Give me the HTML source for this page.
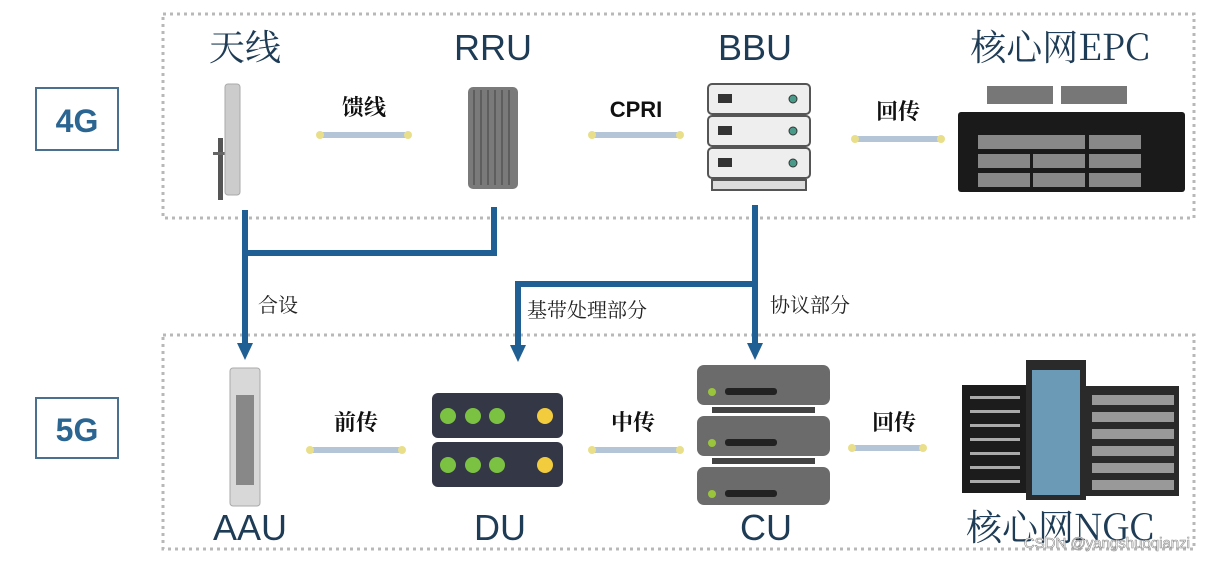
<!DOCTYPE html>
<html><head><meta charset="utf-8"><style>
body{margin:0;background:#fff;}
svg{display:block}
text{font-family:"Liberation Sans","Noto Sans CJK SC",sans-serif}
.cn{font-family:"Noto Serif CJK SC","Noto Sans CJK SC",serif}
</style></head><body>
<svg width="1207" height="562" viewBox="0 0 1207 562" xmlns="http://www.w3.org/2000/svg">
<rect x="0" y="0" width="1207" height="562" fill="#fff"/>
<!-- dotted boxes -->
<rect x="163" y="14" width="1031" height="204" fill="none" stroke="#b8b8b8" stroke-width="3" stroke-dasharray="3 4"/>
<rect x="163" y="335" width="1031" height="214" fill="none" stroke="#b8b8b8" stroke-width="3" stroke-dasharray="3 4"/>
<!-- 4G/5G boxes -->
<rect x="36" y="88" width="82" height="62" fill="#fff" stroke="#4a7090" stroke-width="2"/>
<text x="77" y="132" font-size="32" font-weight="bold" fill="#2b6592" text-anchor="middle">4G</text>
<rect x="36" y="398" width="82" height="60" fill="#fff" stroke="#4a7090" stroke-width="2"/>
<text x="77" y="441" font-size="32" font-weight="bold" fill="#2b6592" text-anchor="middle">5G</text>
<!-- top labels -->
<g fill="#1e3c55" font-size="36">
<text x="245" y="60" text-anchor="middle" class="cn">天线</text>
<text x="493" y="60" text-anchor="middle">RRU</text>
<text x="755" y="60" text-anchor="middle">BBU</text>
<text x="1060" y="60" text-anchor="middle" class="cn">核心网EPC</text>
<text x="250" y="540" text-anchor="middle">AAU</text>
<text x="500" y="540" text-anchor="middle">DU</text>
<text x="766" y="540" text-anchor="middle">CU</text>
<text x="1060" y="540" text-anchor="middle" class="cn">核心网NGC</text>
</g>
<text x="1190" y="548" font-size="15" fill="#fff" stroke="#888" stroke-width="0.6" text-anchor="end">CSDN @yangshuoqianzi</text>
<!-- connectors -->
<g stroke="#b5c5d8" stroke-width="6">
<line x1="320" y1="135" x2="408" y2="135"/>
<line x1="592" y1="135" x2="680" y2="135"/>
<line x1="855" y1="139" x2="941" y2="139"/>
<line x1="310" y1="450" x2="402" y2="450"/>
<line x1="592" y1="450" x2="680" y2="450"/>
<line x1="822" y1="448" x2="893" y2="448" transform="translate(30,0)"/>
</g>
<g fill="#e9df8a">
<circle cx="320" cy="135" r="4"/><circle cx="408" cy="135" r="4"/>
<circle cx="592" cy="135" r="4"/><circle cx="680" cy="135" r="4"/>
<circle cx="855" cy="139" r="4"/><circle cx="941" cy="139" r="4"/>
<circle cx="310" cy="450" r="4"/><circle cx="402" cy="450" r="4"/>
<circle cx="592" cy="450" r="4"/><circle cx="680" cy="450" r="4"/>
<circle cx="852" cy="448" r="4"/><circle cx="923" cy="448" r="4"/>
</g>
<g font-size="22" font-weight="bold" fill="#111" text-anchor="middle" class="cn">
<text x="364" y="115" class="cn">馈线</text>
<text x="636" y="117" font-family="Liberation Sans">CPRI</text>
<text x="898" y="119" class="cn">回传</text>
<text x="356" y="430" class="cn">前传</text>
<text x="633" y="430" class="cn">中传</text>
<text x="894" y="430" class="cn">回传</text>
</g>
<!-- blue lines -->
<g stroke="#1f5f93" stroke-width="6" fill="none">
<polyline points="245,210 245,345"/>
<polyline points="245,253 494,253 494,207"/>
<polyline points="755,205 755,345"/>
<polyline points="755,284 518,284 518,347"/>
</g>
<g fill="#1f5f93">
<polygon points="237,343 253,343 245,360"/>
<polygon points="747,343 763,343 755,360"/>
<polygon points="510,345 526,345 518,362"/>
</g>
<g font-size="20" fill="#222" class="cn">
<text x="258" y="312" class="cn">合设</text>
<text x="527" y="317" class="cn">基带处理部分</text>
<text x="770" y="312" class="cn">协议部分</text>
</g>
<!-- antenna -->
<rect x="218" y="138" width="5" height="62" fill="#555"/>
<rect x="213" y="152" width="14" height="3" fill="#666"/>
<rect x="225" y="84" width="15" height="111" rx="3" fill="#ccc" stroke="#aaa"/>
<!-- RRU -->
<rect x="468" y="87" width="50" height="102" rx="5" fill="#7a7a7a"/>
<g stroke="#555" stroke-width="1.5"><line x1="474" y1="90" x2="474" y2="185"/><line x1="481" y1="90" x2="481" y2="185"/><line x1="488" y1="90" x2="488" y2="185"/><line x1="495" y1="90" x2="495" y2="185"/><line x1="502" y1="90" x2="502" y2="185"/><line x1="509" y1="90" x2="509" y2="185"/></g>
<!-- BBU -->
<g stroke="#555" stroke-width="2" fill="#eee">
<rect x="708" y="84" width="102" height="30" rx="4"/>
<rect x="708" y="116" width="102" height="30" rx="4"/>
<rect x="708" y="148" width="102" height="30" rx="4"/>
<rect x="712" y="180" width="94" height="10" fill="#ddd"/>
</g>
<g fill="#4a9a8a" stroke="#333"><circle cx="793" cy="99" r="4"/><circle cx="793" cy="131" r="4"/><circle cx="793" cy="163" r="4"/></g>
<g fill="#333"><rect x="718" y="94" width="14" height="9"/><rect x="718" y="126" width="14" height="9"/><rect x="718" y="158" width="14" height="9"/></g>
<!-- EPC -->
<rect x="987" y="86" width="66" height="18" fill="#777"/><rect x="1061" y="86" width="66" height="18" fill="#777"/>
<rect x="958" y="112" width="227" height="80" rx="3" fill="#1a1a1a"/>
<g fill="#888">
<rect x="978" y="135" width="57" height="14"/><rect x="1035" y="135" width="0" height="0"/>
<rect x="1033" y="135" width="52" height="14"/><rect x="1089" y="135" width="52" height="14"/>
<rect x="978" y="154" width="52" height="14"/><rect x="1033" y="154" width="52" height="14"/><rect x="1089" y="154" width="52" height="14"/>
<rect x="978" y="173" width="52" height="14"/><rect x="1033" y="173" width="52" height="14"/><rect x="1089" y="173" width="52" height="14"/>
</g>
<!-- AAU -->
<rect x="230" y="368" width="30" height="138" rx="3" fill="#d8d8d8" stroke="#aaa"/>
<rect x="236" y="395" width="18" height="90" fill="#888"/>
<!-- DU -->
<rect x="432" y="393" width="131" height="45" rx="6" fill="#343846"/>
<rect x="432" y="442" width="131" height="45" rx="6" fill="#343846"/>
<g fill="#7cc242"><circle cx="448" cy="416" r="8"/><circle cx="473" cy="416" r="8"/><circle cx="497" cy="416" r="8"/><circle cx="448" cy="465" r="8"/><circle cx="473" cy="465" r="8"/><circle cx="497" cy="465" r="8"/></g>
<g fill="#f2cc3c"><circle cx="545" cy="416" r="8"/><circle cx="545" cy="465" r="8"/></g>
<!-- CU -->
<g fill="#6b6b6b">
<rect x="697" y="365" width="133" height="40" rx="7"/>
<rect x="697" y="416" width="133" height="40" rx="7"/>
<rect x="697" y="467" width="133" height="38" rx="7"/>
<rect x="712" y="407" width="103" height="6" fill="#444"/>
<rect x="712" y="458" width="103" height="6" fill="#444"/>
</g>
<g fill="#9ac43c"><circle cx="712" cy="392" r="4"/><circle cx="712" cy="443" r="4"/><circle cx="712" cy="494" r="4"/></g>
<g fill="#222"><rect x="725" y="388" width="52" height="7" rx="3"/><rect x="725" y="439" width="52" height="7" rx="3"/><rect x="725" y="490" width="52" height="7" rx="3"/></g>
<!-- NGC -->
<rect x="962" y="385" width="68" height="108" fill="#1c1c1c"/>
<rect x="1026" y="360" width="60" height="140" fill="#2a2a2a"/>
<rect x="1032" y="370" width="48" height="125" fill="#6a9ab5"/>
<rect x="1086" y="386" width="93" height="110" fill="#2a2a2a"/>
<g fill="#999"><rect x="1092" y="395" width="82" height="10"/><rect x="1092" y="412" width="82" height="10"/><rect x="1092" y="429" width="82" height="10"/><rect x="1092" y="446" width="82" height="10"/><rect x="1092" y="463" width="82" height="10"/><rect x="1092" y="480" width="82" height="10"/></g>
<g fill="#aaa"><rect x="970" y="396" width="50" height="3"/><rect x="970" y="410" width="50" height="3"/><rect x="970" y="424" width="50" height="3"/><rect x="970" y="438" width="50" height="3"/><rect x="970" y="452" width="50" height="3"/><rect x="970" y="466" width="50" height="3"/><rect x="970" y="480" width="50" height="3"/></g>
</svg>
</body></html>
